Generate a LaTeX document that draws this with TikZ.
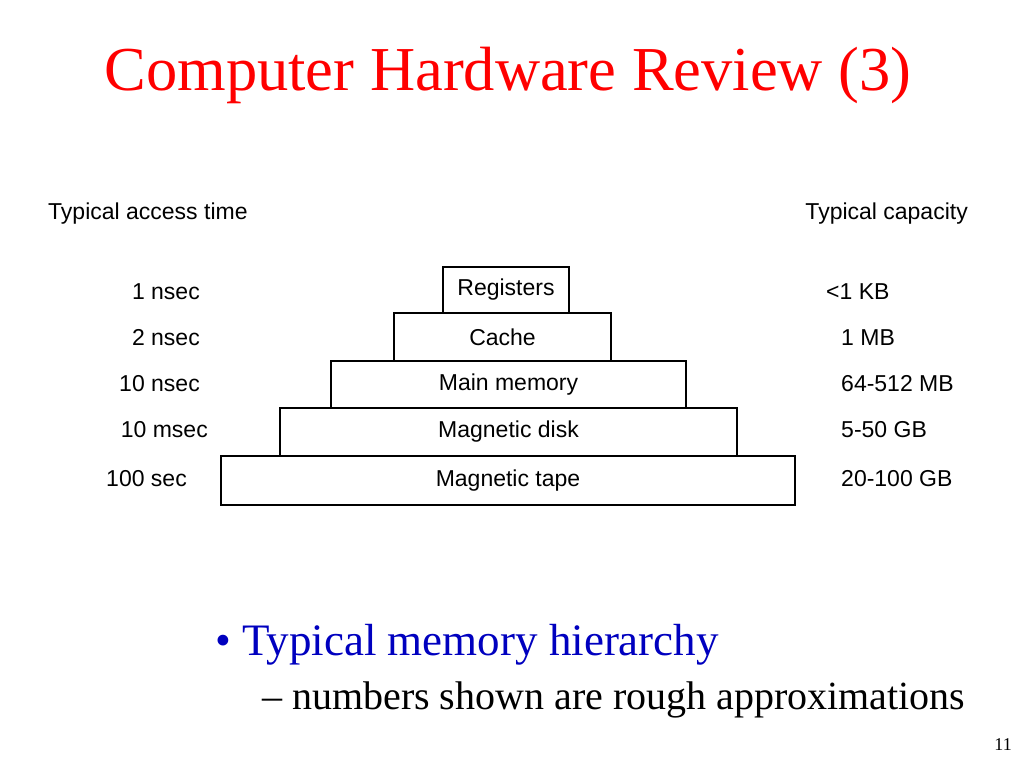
\documentclass[tikz,border=0pt]{standalone}
\usepackage{fontspec}
\setmainfont{Liberation Serif}
\newfontfamily\diagfont{Liberation Sans}
\usetikzlibrary{positioning}
\tikzset{
  level/.style={draw, line width=1.6pt, inner sep=0pt, font=\diagfont\fontsize{23}{26}\selectfont},
  side/.style={font=\diagfont\fontsize{23}{26}\selectfont, inner sep=0pt},
}
\begin{document}
\begin{tikzpicture}[x=1pt, y=-1pt]
    \useasboundingbox (0,0) rectangle (1024,768);
    % Title
    \node[red, font=\fontsize{62.5}{70}\selectfont] (title) at (508,75) {Computer Hardware Review (3)};
    % Column heads
    \node[side, anchor=west] (timehead) at (48,214) {Typical access time};
    \node[side, anchor=east] (caphead) at (968,214) {Typical capacity};
    % Pyramid levels
    \node[level, minimum width=126, minimum height=46] (reg) at (506,290) {\raisebox{-3pt}{Registers}};
    \node[level, minimum width=217, minimum height=48] (cache) at (502.5,337) {Cache};
    \node[level, minimum width=355, minimum height=47] (mem) at (508.5,384.5) {Main memory};
    \node[level, minimum width=457, minimum height=48] (disk) at (508.5,432) {Magnetic disk};
    \node[level, minimum width=574, minimum height=49] (tape) at (508,480.5) {Magnetic tape};
    % Access times
    \node[side, anchor=east] (t1) at (200,292) {1 nsec};
    \node[side, anchor=east] (t2) at (200,338) {2 nsec};
    \node[side, anchor=east] (t3) at (200,384) {10 nsec};
    \node[side, anchor=east] (t4) at (208,430) {10 msec};
    \node[side, anchor=east] (t5) at (187,479) {100 sec};
    % Capacities
    \node[side, anchor=west] (c1) at (826,292) {<1 KB};
    \node[side, anchor=west] (c2) at (841,338) {1 MB};
    \node[side, anchor=west] (c3) at (841,384) {64-512 MB};
    \node[side, anchor=west] (c4) at (841,430) {5-50 GB};
    \node[side, anchor=west] (c5) at (841,479) {20-100 GB};
    % Bullets
    \node[anchor=west, inner sep=0pt, color=blue!75!black, font=\fontsize{45}{50}\selectfont] (b1) at (215,645) {\textbullet\ Typical memory hierarchy};
    \node[anchor=west, inner sep=0pt, font=\fontsize{40}{44}\selectfont] (b2) at (262,700) {-- numbers shown are rough approximations};
    \node[anchor=east, inner sep=0pt, font=\fontsize{18}{20}\selectfont] (page) at (1012,745) {11};
\end{tikzpicture}
\end{document}
